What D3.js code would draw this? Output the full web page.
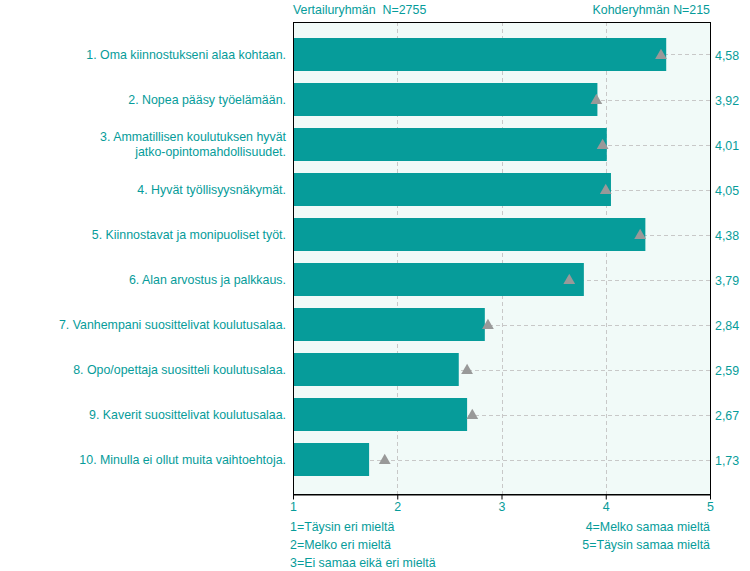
<!DOCTYPE html>
<html><head><meta charset="utf-8">
<script src="https://cdn.jsdelivr.net/npm/d3@7"></script>
<style>body{margin:0;background:#fff}svg{display:block}text{font-family:"Liberation Sans",Arial,sans-serif;font-size:12.4px;fill:#069c9a}</style>
</head><body><svg id="c" width="750" height="571"></svg>
<script>
const categories = [
  ["1. Oma kiinnostukseni alaa kohtaan."],
  ["2. Nopea pääsy työelämään."],
  ["3. Ammatillisen koulutuksen hyvät", "jatko-opintomahdollisuudet."],
  ["4. Hyvät työllisyysnäkymät."],
  ["5. Kiinnostavat ja monipuoliset työt."],
  ["6. Alan arvostus ja palkkaus."],
  ["7. Vanhempani suosittelivat koulutusalaa."],
  ["8. Opo/opettaja suositteli koulutusalaa."],
  ["9. Kaverit suosittelivat koulutusalaa."],
  ["10. Minulla ei ollut muita vaihtoehtoja."]
];
const targetValues = [4.58, 3.92, 4.01, 4.05, 4.38, 3.79, 2.84, 2.59, 2.67, 1.73];
const comparisonValues = [4.53, 3.91, 3.97, 4.00, 4.33, 3.65, 2.87, 2.67, 2.72, 1.88];
const valueLabels = ["4,58", "3,92", "4,01", "4,05", "4,38", "3,79", "2,84", "2,59", "2,67", "1,73"];
const xTicks = [1, 2, 3, 4, 5];
const legendLeft = ["1=Täysin eri mieltä", "2=Melko eri mieltä", "3=Ei samaa eikä eri mieltä"];
const legendRight = ["4=Melko samaa mieltä", "5=Täysin samaa mieltä"];
const headerLeft = "Vertailuryhmän  N=2755";
const headerRight = "Kohderyhmän N=215";

const svg = d3.select("#c");
const L = 293, R = 710, T = 22, B = 494;
const x = d3.scaleLinear().domain([1, 5]).range([L, R]);
const y = d3.scaleBand().domain(d3.range(categories.length)).range([32, 482]).paddingInner(0.267).paddingOuter(0.1335);
const teal = "#069c9a";

svg.append("rect").attr("x", L).attr("y", T).attr("width", R - L).attr("height", B - T).attr("fill", "#f1faf8");

svg.selectAll(".vg").data(xTicks.slice(1, -1)).join("line")
  .attr("x1", d => Math.round(x(d)) + 0.5).attr("x2", d => Math.round(x(d)) + 0.5)
  .attr("y1", T).attr("y2", B)
  .attr("stroke", "#c8c8c8").attr("stroke-dasharray", "4,3");

svg.selectAll(".hg").data(targetValues).join("line")
  .attr("x1", L).attr("x2", R)
  .attr("y1", (d, i) => Math.round(y(i) + y.bandwidth() / 2) + 0.5)
  .attr("y2", (d, i) => Math.round(y(i) + y.bandwidth() / 2) + 0.5)
  .attr("stroke", "#c8c8c8").attr("stroke-dasharray", "4,3");

svg.selectAll(".bar").data(targetValues).join("rect")
  .attr("x", L).attr("y", (d, i) => y(i))
  .attr("width", d => x(d) - L).attr("height", y.bandwidth())
  .attr("fill", teal);

const tri = d3.symbol().type(d3.symbolTriangle).size(60);
svg.selectAll(".tri").data(comparisonValues).join("path")
  .attr("d", tri)
  .attr("transform", (d, i) => `translate(${x(d)},${y(i) + y.bandwidth() / 2 + 1})`)
  .attr("fill", "#999999");

svg.append("rect").attr("x", L + 0.5).attr("y", T + 0.5).attr("width", R - L).attr("height", B - T)
  .attr("fill", "none").attr("stroke", "#000");

const ax = svg.append("g").attr("transform", `translate(0,${B + 0.5})`)
  .call(d3.axisBottom(x).tickValues(xTicks).tickFormat(d3.format("d")).tickSize(5).tickSizeOuter(0));
ax.select(".domain").attr("stroke", "#000");
ax.selectAll(".tick line").attr("stroke", "#000");
ax.selectAll(".tick text").attr("fill", teal).style("font-size", "12.4px").style("font-family", '"Liberation Sans",Arial,sans-serif').attr("y", 8);

const lab = svg.selectAll(".lab").data(categories).join("text")
  .attr("text-anchor", "end")
  .attr("transform", (d, i) => `translate(286,${y(i) + y.bandwidth() / 2})`);
lab.each(function (d) {
  const t = d3.select(this);
  const n = d.length;
  d.forEach((s, j) => {
    t.append("tspan").attr("x", 0).attr("y", (j - (n - 1) / 2) * 15).attr("dy", "0.35em").text(s);
  });
});

svg.selectAll(".val").data(valueLabels).join("text")
  .attr("x", 715).attr("y", (d, i) => y(i) + y.bandwidth() / 2 + 1).attr("dy", "0.35em").text(d => d);

svg.append("text").attr("x", L).attr("y", 14).attr("xml:space", "preserve").style("white-space", "pre").text(headerLeft);
svg.append("text").attr("x", R).attr("y", 14).attr("text-anchor", "end").text(headerRight);

svg.selectAll(".ll").data(legendLeft).join("text")
  .attr("x", 290).attr("y", (d, i) => 527 + i * 18).attr("dy", "0.35em").text(d => d);
svg.selectAll(".lr").data(legendRight).join("text")
  .attr("x", R).attr("text-anchor", "end").attr("y", (d, i) => 527 + i * 18).attr("dy", "0.35em").text(d => d);
</script></body></html>
